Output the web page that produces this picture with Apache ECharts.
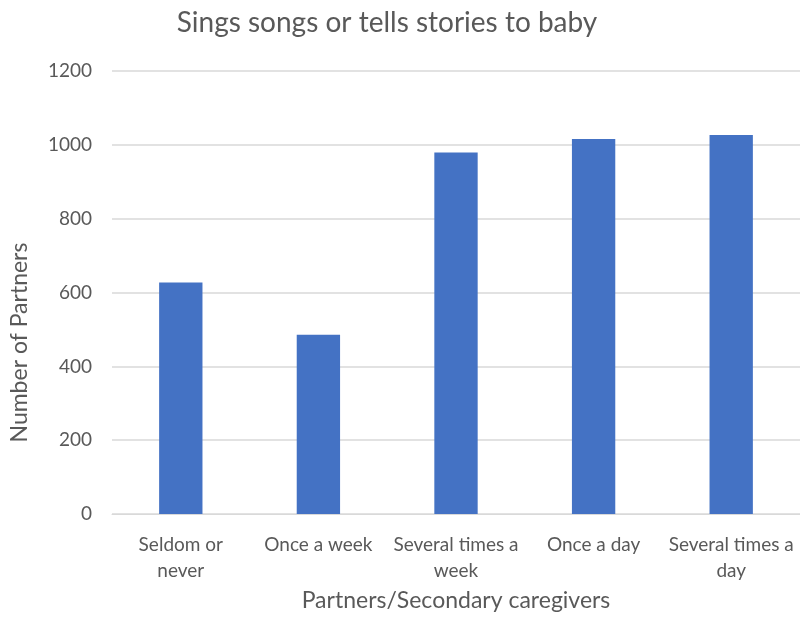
<!DOCTYPE html>
<html>
<head>
<meta charset="utf-8">
<script src="https://cdn.jsdelivr.net/npm/echarts@6/dist/echarts.min.js"></script>
<style>
  html, body { margin: 0; padding: 0; background: #fff; }
  #chart { width: 800px; height: 617px; }
</style>
</head>
<body>
<div id="chart"></div>
<script>
const categories = ['Seldom or\nnever', 'Once a week', 'Several times a\nweek', 'Once a day', 'Several times a\nday'];
const partners = [627, 486, 979, 1016, 1027];
const yTicks = { min: 0, max: 1200, interval: 200 };

const font = 'Lato, "Open Sans", sans-serif';
const textColor = '#595959';
const chart = echarts.init(document.getElementById('chart'));

chart.setOption({
  animation: false,
  textStyle: { fontFamily: font },
  title: {
    text: 'Sings songs or tells stories to baby',
    left: 382,
    textAlign: 'center',
    top: 4,
    textStyle: { fontFamily: font, fontSize: 28, fontWeight: 'normal', color: textColor }
  },
  grid: { left: 108, right: -3, top: 71, bottom: 100 },
  xAxis: {
    type: 'category',
    data: categories,
    name: 'Partners/Secondary caregivers',
    nameLocation: 'middle',
    nameGap: 74,
    nameTextStyle: { fontFamily: font, fontSize: 23, color: textColor },
    axisLine: { lineStyle: { color: '#d9d9d9' } },
    axisTick: { show: false },
    axisLabel: { fontFamily: font, fontSize: 19, color: textColor, margin: 18, lineHeight: 26, interval: 0 }
  },
  yAxis: {
    type: 'value',
    min: yTicks.min,
    max: yTicks.max,
    interval: yTicks.interval,
    name: 'Number of Partners',
    nameLocation: 'middle',
    nameGap: 81,
    nameTextStyle: { fontFamily: font, fontSize: 23, color: textColor, padding: [0, 100, 0, 0] },
    axisLine: { show: false },
    axisTick: { show: false },
    axisLabel: { fontFamily: font, fontSize: 19, color: textColor, margin: 20, formatter: (v) => String(v) },
    splitLine: { lineStyle: { color: '#d9d9d9', width: 1.5 } }
  },
  series: [{
    type: 'bar',
    data: partners,
    barWidth: '31.5%',
    itemStyle: { color: '#4472C4' }
  }]
});
</script>
</body>
</html>
